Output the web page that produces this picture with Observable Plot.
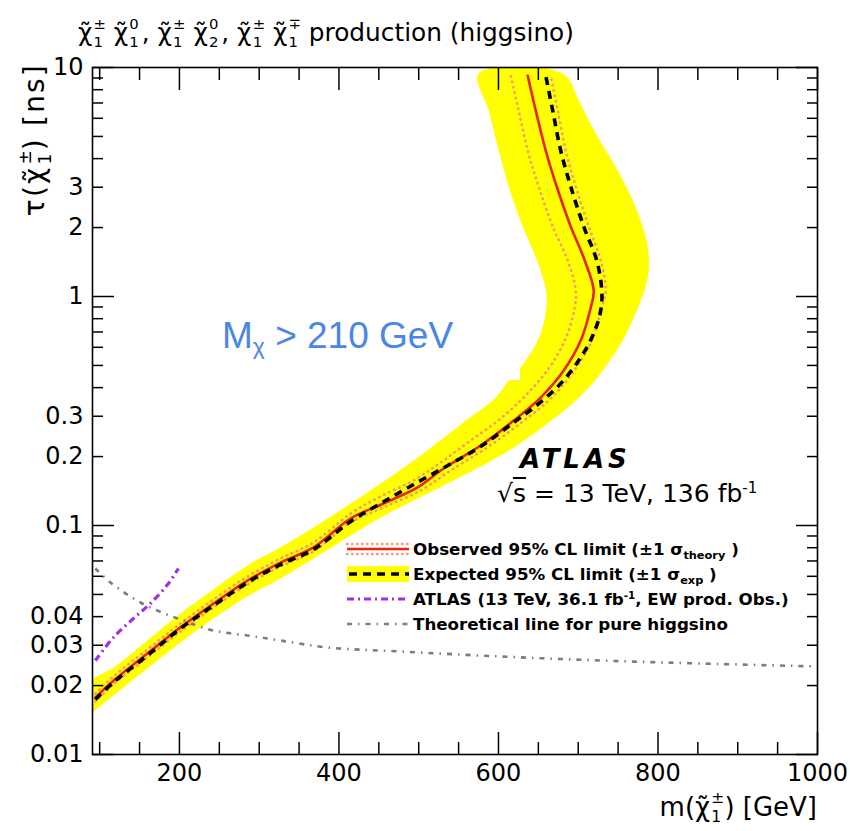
<!DOCTYPE html>
<html><head><meta charset="utf-8">
<script src="https://cdn.jsdelivr.net/npm/d3@7"></script>
<script src="https://cdn.jsdelivr.net/npm/@observablehq/plot@0.6"></script>
<style>
body{margin:0;background:#fff;}
#wrap{position:relative;width:850px;height:831px;overflow:hidden;font-family:"DejaVu Sans",sans-serif;color:#000;}
#wrap svg{position:absolute;left:0;top:0;}
.abs{position:absolute;white-space:nowrap;line-height:1;}
.ss{display:inline-block;position:relative;width:0.55em;height:0.1em;}
.ss .u,.ss .d{position:absolute;left:0.08em;font-size:0.6em;line-height:1;}
.ss .u{bottom:0.62em;}
.ss .d{bottom:-0.6em;}
.leg{font-weight:bold;font-size:16.7px;}
.leg sub{font-size:0.68em;vertical-align:-0.35em;line-height:0;}
.leg sup{font-size:0.62em;vertical-align:0.55em;line-height:0;}
</style></head><body><div id="wrap"></div>
<script>
// ---- data (m in GeV, tau in ns) ----
const obsM = [94.6,117.2,159.8,201.3,242.7,285.3,326.7,368.1,414.6,456.0,498.6,531.2,577.7,619.1,652.9,681.8,703.1,715.7,719.4,708.2,690.6,673.0,659.2,646.7,636.6];
const obsT = [0.01774,0.0210,0.0276,0.0359,0.0456,0.0575,0.0689,0.0802,0.1073,0.1248,0.1466,0.1774,0.2235,0.2874,0.362,0.475,0.642,0.895,1.062,1.436,2.022,3.022,4.341,6.49,9.23];

const expM = [94.6,117.2,159.8,201.3,242.7,285.3,326.7,368.1,414.6,452.2,493.6,536.3,577.7,619.1,649.2,678.0,703.1,719.4,728.2,729.5,723.2,706.9,690.6,678.0,668.0,659.2];
const expT = [0.01739,0.02063,0.02706,0.03549,0.04472,0.05638,0.06755,0.07857,0.1041,0.1248,0.1510,0.1828,0.2213,0.2818,0.3376,0.4170,0.5415,0.6894,0.8688,1.062,1.436,2.022,3.022,4.341,6.49,9.23];

const thDnM = [94.6,117.2,159.8,201.3,242.7,285.3,326.7,368.1,414.6,452.2,493.6,527.5,565.1,602.8,634.1,662.9,684.3,695.6,696.9,686.8,668.0,650.4,636.6,625.3,615.3];
const thDnT = [0.01846,0.02191,0.02874,0.03733,0.04751,0.05988,0.07177,0.08429,0.1128,0.1339,0.1572,0.1884,0.2350,0.2933,0.3695,0.4848,0.6556,0.895,1.062,1.436,2.022,3.022,4.341,6.49,9.23];

const thUpM = [94.6,117.2,159.8,201.3,242.7,285.3,326.7,368.1,414.6,456.0,502.4,540.0,587.7,630.4,665.5,694.3,716.9,729.5,734.5,728.2,713.2,696.9,684.3,674.3,665.5];
const thUpT = [0.01704,0.02022,0.02652,0.03444,0.04384,0.05524,0.06622,0.07700,0.1031,0.1199,0.1422,0.1739,0.2213,0.2846,0.3585,0.4705,0.642,0.895,1.062,1.436,2.022,3.022,4.341,6.49,9.23];

const bandInM = [91,117.2,159.8,201.3,242.7,289.1,326.7,368.1,414.6,452.2,502.4,552.6,596.5,612.8,631.6,652.9,660.5,649.2,630.4,612.8,600.3,587.7,575.2];
const bandInT = [0.02147,0.02399,0.03146,0.04128,0.05255,0.06825,0.0802,0.0980,0.1248,0.1526,0.2022,0.2761,0.362,0.4297,0.5098,0.6894,1.0,1.408,2.022,3.022,4.341,6.49,9.415];

const bandOutM = [91,117.2,159.8,201.3,242.7,289.1,326.7,368.1,414.6,452.2,493.6,536.3,577.7,619.1,652.9,686.8,715.7,737.0,755.8,769.6,780.9,787.2,788.4,782.2,768.4,745.8,723.2,700.6,680.5];
const bandOutT = [0.01525,0.01810,0.02374,0.03084,0.03926,0.04996,0.05869,0.07177,0.09044,0.1084,0.1286,0.1526,0.1810,0.2191,0.2652,0.3276,0.4087,0.5098,0.6426,0.8097,1.0102,1.211,1.510,1.942,2.626,3.733,5.047,7.178,9.415];

const atlas36M = [94.6,117.2,142.3,163.6,186.2,198.7];
const atlas36T = [0.02573,0.03243,0.03926,0.04564,0.05580,0.06491];

const pureM = [94.6,113.5,151.1,197.5,242.7,285.3,326.7,385.6,477.1,602.5,727.9,853.4,1000];
const pureT = [0.06491,0.05638,0.04610,0.03926,0.03479,0.03309,0.03146,0.02933,0.02818,0.02679,0.02573,0.02497,0.02423];

// ---- ticks ----
const xMajor = [200,400,600,800,1000];
const xMinor = [100,150,250,300,350,450,500,550,650,700,750,850,900,950];
const xLabels = [200,400,600,800,1000];
const yMajor = [0.01,0.1,1,10];
const yMinor = [0.02,0.03,0.04,0.05,0.06,0.07,0.08,0.09,0.2,0.3,0.4,0.5,0.6,0.7,0.8,0.9,2,3,4,5,6,7,8,9];
const yLabels = [0.01,0.02,0.03,0.04,0.1,0.2,0.3,1,2,3,10];

const pts = (M, T) => M.map((m, i) => ({m, t: T[i]}));
const bandPts = [...pts(bandInM, bandInT), ...pts(bandOutM, bandOutT).reverse()];

const theoColor = "#f39a72";
const tickOpts = {fill: "none", strokeWidth: 1.5, label: null};

const plot = Plot.plot({
  width: 850, height: 831,
  marginLeft: 92, marginRight: 33, marginTop: 67, marginBottom: 77,
  x: {type: "linear", domain: [91, 1000]},
  y: {type: "log", domain: [0.01, 10]},
  style: {background: "white", fontFamily: "'DejaVu Sans', sans-serif", color: "black", overflow: "visible"},
  marks: [
    Plot.line(bandPts, {x: "m", y: "t", fill: "#ffff00", stroke: "none", curve: "catmull-rom", clip: true}),
    Plot.line(pts(thUpM, thUpT), {x: "m", y: "t", stroke: theoColor, strokeWidth: 2.6, strokeDasharray: "0.5,5", strokeLinecap: "round", curve: "catmull-rom", clip: true}),
    Plot.line(pts(thDnM, thDnT), {x: "m", y: "t", stroke: theoColor, strokeWidth: 2.6, strokeDasharray: "0.5,5", strokeLinecap: "round", curve: "catmull-rom", clip: true}),
    Plot.line(pts(obsM, obsT), {x: "m", y: "t", stroke: "#e8230f", strokeWidth: 2.6, curve: "catmull-rom", clip: true}),
    Plot.line(pts(expM, expT), {x: "m", y: "t", stroke: "black", strokeWidth: 3.6, strokeDasharray: "8,6", strokeLinecap: "butt", curve: "catmull-rom", clip: true}),
    Plot.line(pts(atlas36M, atlas36T), {x: "m", y: "t", stroke: "#a22ee6", strokeWidth: 3.2, strokeDasharray: "7,4,2,4", strokeLinecap: "butt", curve: "catmull-rom", clip: true}),
    Plot.line(pts(pureM, pureT), {x: "m", y: "t", stroke: "#7d7d7d", strokeWidth: 2.6, strokeDasharray: "5,6,1.5,6", strokeLinecap: "butt", curve: "catmull-rom", clip: true}),
    // inward ticks on all four sides
    Plot.axisX(xMajor, {anchor: "bottom", tickSize: 22, dy: -22, ...tickOpts}),
    Plot.axisX(xMinor, {anchor: "bottom", tickSize: 12, dy: -12, ...tickOpts}),
    Plot.axisX(xMajor, {anchor: "top", tickSize: 22, dy: 22, ...tickOpts}),
    Plot.axisX(xMinor, {anchor: "top", tickSize: 12, dy: 12, ...tickOpts}),
    Plot.axisY(yMajor, {anchor: "left", tickSize: 22, dx: 22, ...tickOpts}),
    Plot.axisY(yMinor, {anchor: "left", tickSize: 11, dx: 11, ...tickOpts}),
    Plot.axisY(yMajor, {anchor: "right", tickSize: 22, dx: -22, ...tickOpts}),
    Plot.axisY(yMinor, {anchor: "right", tickSize: 11, dx: -11, ...tickOpts}),
    // labels
    Plot.axisX(xLabels, {anchor: "bottom", tickSize: 0, tickPadding: 9, fontSize: 24, tickFormat: d => String(d), label: null}),
    Plot.axisY(yLabels, {anchor: "left", tickSize: 0, tickPadding: 9, fontSize: 24, tickFormat: d => String(d), label: null}),
    Plot.frame({stroke: "black", strokeWidth: 1.6})
  ]
});

const wrap = document.getElementById("wrap");
wrap.appendChild(plot);

const chi = (u, d) => `χ̃<span class="ss"><span class="u">${u}</span><span class="d">${d}</span></span>`;

const overlay = `
<div class="abs" style="left:78px;top:21px;font-size:24.8px;">${chi("±","1")} ${chi("0","1")}, ${chi("±","1")} ${chi("0","2")}, ${chi("±","1")} ${chi("∓","1")} production (higgsino)</div>
<div class="abs" style="left:0;top:0;width:300px;text-align:right;font-size:28px;letter-spacing:2.2px;transform-origin:0 0;transform:translate(21px,363px) rotate(-90deg);">τ(${chi("±","1")}) [ns]</div>
<div class="abs" style="right:33px;top:794px;font-size:26px;">m(${chi("±","1")}) [GeV]</div>
<div class="abs" style="left:205px;top:296px;width:315px;height:84px;background:#fff;"></div>
<div class="abs" style="left:222px;top:317px;font-family:'Liberation Sans',Arial,sans-serif;font-size:37px;color:#4a86e8;">M<sub style="font-size:0.62em;vertical-align:-0.25em;line-height:0;">χ</sub> &gt; 210 GeV</div>
<div class="abs" style="left:520px;top:446px;font-size:26px;font-weight:bold;font-style:italic;letter-spacing:4px;">ATLAS</div>
<div class="abs" style="left:497px;top:481px;font-size:25px;">√<span style="text-decoration:overline;">s</span> = 13 TeV, 136 fb<sup style="font-size:0.6em;vertical-align:0.6em;line-height:0;">-1</sup></div>
<svg style="position:absolute;left:345px;top:534px;" width="66" height="105">
  <line x1="2" x2="64" y1="10" y2="10" stroke="${theoColor}" stroke-width="2.4" stroke-dasharray="0.5,4.5" stroke-linecap="round"/>
  <line x1="2" x2="64" y1="20" y2="20" stroke="${theoColor}" stroke-width="2.4" stroke-dasharray="0.5,4.5" stroke-linecap="round"/>
  <line x1="2" x2="64" y1="15" y2="15" stroke="#e8230f" stroke-width="2.6"/>
  <rect x="2" y="32" width="62" height="16" fill="#ffff00"/>
  <line x1="4" x2="64" y1="40" y2="40" stroke="black" stroke-width="3.6" stroke-dasharray="8,6"/>
  <line x1="2" x2="64" y1="65" y2="65" stroke="#a22ee6" stroke-width="3" stroke-dasharray="7,4,2,4"/>
  <line x1="2" x2="64" y1="90" y2="90" stroke="#7d7d7d" stroke-width="2.6" stroke-dasharray="5,6,1.5,6"/>
</svg>
<div class="abs leg" style="left:413px;top:541px;">Observed 95% CL limit (±1 σ<sub>theory</sub> )</div>
<div class="abs leg" style="left:413px;top:566px;">Expected 95% CL limit (±1 σ<sub>exp</sub> )</div>
<div class="abs leg" style="left:413px;top:591px;">ATLAS (13 TeV, 36.1 fb<sup>-1</sup>, EW prod. Obs.)</div>
<div class="abs leg" style="left:413px;top:616px;">Theoretical line for pure higgsino</div>
`;
const ov = document.createElement("div");
ov.innerHTML = overlay;
while (ov.firstElementChild) wrap.appendChild(ov.firstElementChild);
</script>
</body></html>
